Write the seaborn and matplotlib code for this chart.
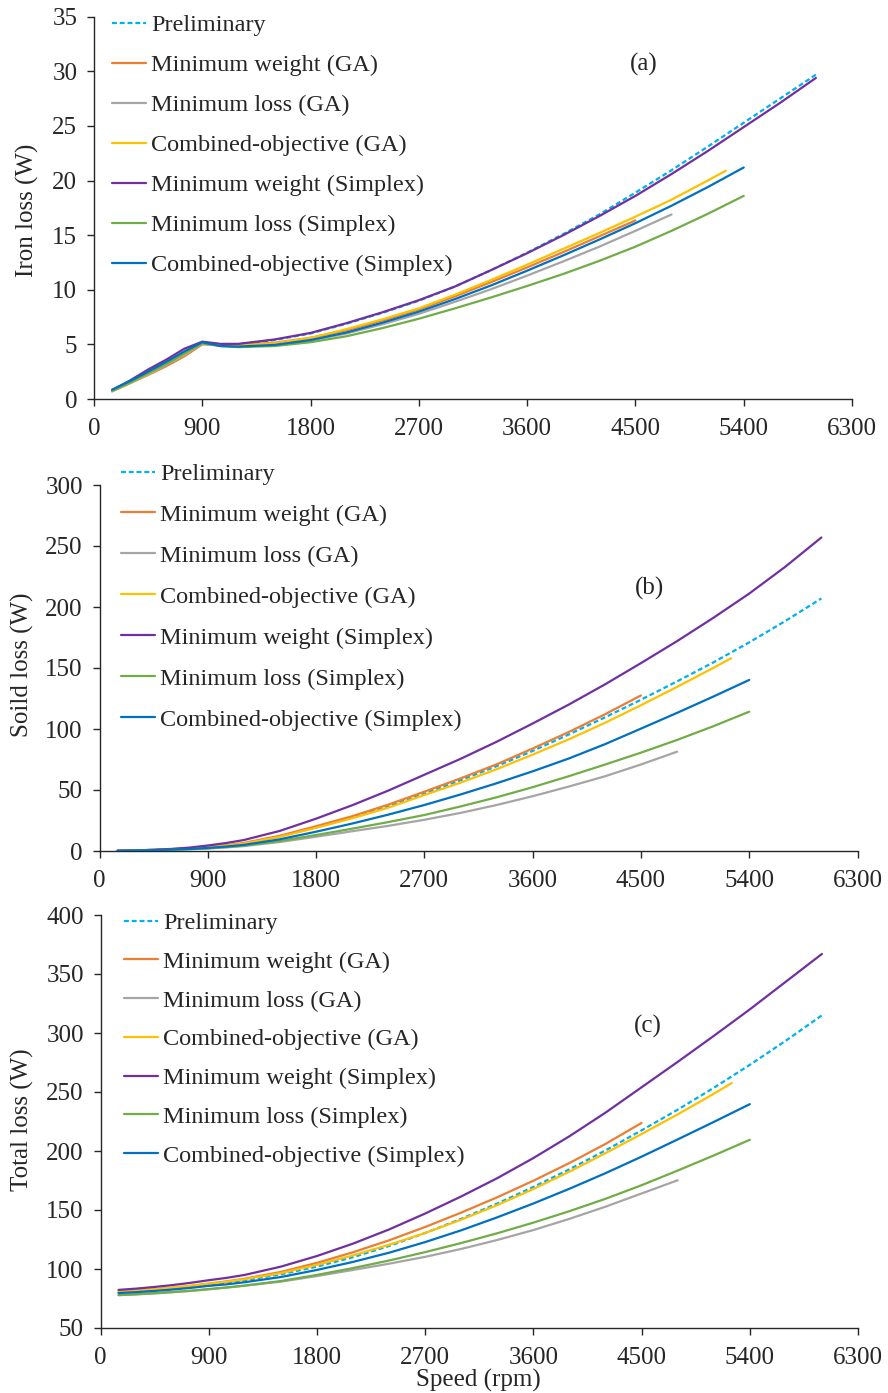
import matplotlib
matplotlib.use("Agg")
import matplotlib.pyplot as plt
import seaborn as sns
import pandas as pd

# ---------------- data ----------------
speed = [150, 300, 450, 600, 750, 900, 1050, 1200, 1500, 1800, 2100, 2400,
         2700, 3000, 3300, 3600, 3900, 4200, 4500, 4800, 5100, 5400, 5700, 6000]
speed_comb_ga = [150, 300, 450, 600, 750, 900, 1050, 1200, 1500, 1800, 2100, 2400,
                 2700, 3000, 3300, 3600, 3900, 4200, 4500, 4800, 5100, 5250]

series_names = ["Preliminary", "Minimum weight (GA)", "Minimum loss (GA)",
                "Combined-objective (GA)", "Minimum weight (Simplex)",
                "Minimum loss (Simplex)", "Combined-objective (Simplex)"]
series_colors = ["#00B0F0", "#ED7D31", "#A5A5A5", "#FFC000", "#7030A0", "#70AD47", "#0070C0"]

# Iron loss (W)
iron_prelim = [0.8, 1.6, 2.5, 3.4, 4.3, 5.2, 5.0, 5.0, 5.4, 6.0, 6.9, 7.9, 9.0, 10.3, 11.8, 13.4,
               15.1, 16.9, 18.9, 20.95, 23.1, 25.3, 27.5, 29.7]
iron_minw_ga = [0.7, 1.45, 2.2, 3.0, 3.9, 5.0, 5.0, 4.95, 5.15, 5.6, 6.3, 7.2, 8.2, 9.4, 10.7,
                12.05, 13.45, 14.9, 16.35]
iron_minl_ga = [0.7, 1.45, 2.25, 3.1, 4.0, 5.05, 4.9, 4.8, 4.95, 5.35, 6.0, 6.85, 7.8, 8.9, 10.05,
                11.3, 12.6, 13.95, 15.4, 16.9]
iron_comb_ga = [0.75, 1.5, 2.3, 3.2, 4.1, 5.1, 4.95, 4.9, 5.1, 5.6, 6.4, 7.3, 8.3, 9.55, 10.9,
                12.3, 13.75, 15.2, 16.7, 18.25, 20.0, 20.9]
iron_minw_sx = [0.8, 1.7, 2.7, 3.6, 4.6, 5.25, 5.05, 5.05, 5.45, 6.05, 6.95, 7.95, 9.05, 10.3, 11.8,
                13.35, 15.0, 16.75, 18.6, 20.6, 22.7, 24.9, 27.1, 29.4]
iron_minl_sx = [0.75, 1.5, 2.35, 3.2, 4.15, 5.1, 4.85, 4.75, 4.85, 5.2, 5.75, 6.5, 7.35, 8.3, 9.3,
                10.35, 11.45, 12.65, 13.95, 15.4, 16.95, 18.6]
iron_comb_sx = [0.85, 1.65, 2.5, 3.4, 4.35, 5.2, 4.85, 4.8, 4.95, 5.4, 6.1, 7.0, 8.0, 9.15, 10.4,
                11.75, 13.15, 14.6, 16.1, 17.7, 19.4, 21.2]

# Solid loss (W)
solid_prelim = [0.2, 0.5, 0.9, 1.4, 2.2, 3.2, 4.5, 6.3, 12.0, 19.5, 27.5, 36.5, 47.0, 58.0, 69.5,
                82.0, 95.5, 109.5, 124.0, 139.0, 154.5, 171.0, 188.5, 207.0]
solid_minw_ga = [0.2, 0.5, 0.9, 1.5, 2.3, 3.3, 4.7, 6.6, 12.5, 20.3, 28.5, 38.0, 48.6, 59.5, 71.0,
                 84.0, 97.5, 112.0, 127.5]
solid_minl_ga = [0.1, 0.3, 0.5, 0.9, 1.4, 2.0, 2.9, 4.0, 7.4, 11.7, 16.2, 20.6, 25.6, 31.2, 37.7,
                 44.9, 52.8, 61.2, 70.9, 81.4]
solid_comb_ga = [0.2, 0.5, 0.9, 1.4, 2.1, 3.1, 4.4, 6.1, 11.6, 19.0, 26.8, 35.5, 45.9, 56.0, 67.0,
                 79.0, 91.5, 105.0, 119.5, 134.5, 150.0, 158.0]
solid_minw_sx = [0.3, 0.5, 1.0, 1.7, 2.8, 4.5, 6.5, 9.0, 16.5, 26.5, 37.5, 49.5, 62.5, 75.5, 89.5,
                 104.5, 120.0, 136.5, 154.0, 172.0, 191.0, 211.0, 233.0, 257.0]
solid_minl_sx = [0.1, 0.3, 0.6, 1.0, 1.5, 2.2, 3.2, 4.4, 8.2, 13.1, 18.3, 23.7, 29.5, 36.5, 44.0,
                 52.3, 61.3, 70.8, 80.6, 91.0, 102.2, 114.2]
solid_comb_sx = [0.2, 0.4, 0.7, 1.1, 1.7, 2.5, 3.6, 5.0, 9.6, 15.8, 22.5, 29.8, 37.7, 46.3, 55.5,
                 65.3, 75.8, 87.5, 100.3, 113.2, 126.5, 140.2]

# Total loss (W)
total_prelim = [80.0, 81.0, 82.2, 83.5, 85.0, 86.8, 88.5, 90.5, 95.5, 102.0, 110.0, 119.5, 130.5,
                142.5, 155.5, 169.5, 184.5, 200.5, 217.5, 235.0, 253.5, 273.0, 293.5, 315.0]
total_minw_ga = [80.6, 81.5, 82.6, 84.0, 85.6, 87.6, 89.5, 91.8, 97.5, 105.2, 114.2, 124.3, 135.6,
                 147.8, 160.8, 174.8, 189.8, 206.0, 223.8]
total_minl_ga = [77.8, 78.5, 79.3, 80.3, 81.4, 82.8, 84.2, 85.8, 89.3, 94.0, 99.2, 104.5, 110.3,
                 117.0, 124.6, 133.0, 142.5, 152.8, 164.0, 175.2]
total_comb_ga = [81.0, 81.9, 83.0, 84.3, 85.8, 87.6, 89.3, 91.4, 96.5, 103.5, 111.5, 120.5, 130.5,
                 141.8, 154.2, 167.8, 182.5, 198.2, 214.4, 231.0, 248.5, 257.6]
total_minw_sx = [82.3, 83.4, 84.8, 86.4, 88.3, 90.5, 92.5, 95.0, 102.0, 111.0, 121.5, 133.5, 147.0,
                 161.5, 177.0, 194.0, 212.5, 232.5, 254.0, 275.5, 297.5, 320.0, 343.5, 367.0]
total_minl_sx = [77.9, 78.6, 79.5, 80.5, 81.6, 83.0, 84.4, 86.0, 89.8, 95.0, 100.8, 107.2, 114.3,
                 122.0, 130.3, 139.3, 149.0, 159.5, 171.0, 183.4, 196.2, 209.5]
total_comb_sx = [79.6, 80.4, 81.4, 82.6, 84.0, 85.7, 87.0, 88.8, 93.2, 99.2, 106.0, 113.8, 122.8,
                 132.8, 143.8, 155.5, 168.0, 181.2, 195.2, 209.8, 224.6, 239.7]

x_ticks = [0, 900, 1800, 2700, 3600, 4500, 5400, 6300]
iron_ticks = [0, 5, 10, 15, 20, 25, 30, 35]
solid_ticks = [0, 50, 100, 150, 200, 250, 300]
total_ticks = [50, 100, 150, 200, 250, 300, 350, 400]

# ---------------- style ----------------
sns.set_theme(style="ticks")
plt.rcParams["font.family"] = ["Liberation Serif", "DejaVu Serif"]

W, H = 888, 1393
fig = plt.figure(figsize=(W / 100, H / 100), dpi=100)


def px_axes(left, right, bottom, top):
    return fig.add_axes([left / W, 1 - bottom / H, (right - left) / W, (bottom - top) / H])


ax_a = px_axes(94, 852, 399, 16.8)
ax_b = px_axes(99.5, 857.5, 851, 485)
ax_c = px_axes(100.5, 858, 1328, 915)

panels = [
    (ax_a, [iron_prelim, iron_minw_ga, iron_minl_ga, iron_comb_ga, iron_minw_sx, iron_minl_sx, iron_comb_sx],
     iron_ticks, (112, 14), 0.74, "(a)", (644, 64), "Iron loss (W)", (27, 210)),
    (ax_b, [solid_prelim, solid_minw_ga, solid_minl_ga, solid_comb_ga, solid_minw_sx, solid_minl_sx, solid_comb_sx],
     solid_ticks, (121, 463), 0.78, "(b)", (650, 588), "Soild loss (W)", (22, 665)),
    (ax_c, [total_prelim, total_minw_ga, total_minl_ga, total_comb_ga, total_minw_sx, total_minl_sx, total_comb_sx],
     total_ticks, (124, 912), 0.69, "(c)", (648, 1026), "Total loss (W)", (22, 1120)),
]

for ax, data, yt, leg_pos, leg_sp, tag, tag_pos, ylab, ylab_pos in panels:
    handles = []
    for i, (name, col, vals) in enumerate(zip(series_names, series_colors, data)):
        spd = speed_comb_ga if i == 3 else speed[:len(vals)]
        df = pd.DataFrame({"speed": spd, "loss": vals})
        ls = (0, (2.2, 1.3)) if i == 0 else "-"
        sns.lineplot(data=df, x="speed", y="loss", ax=ax, color=col, linewidth=1.6,
                     linestyle=ls, legend=False, zorder=2 + i)
        handles.append(ax.get_lines()[-1])
    ax.set_xlim(0, 6300)
    ax.set_ylim(yt[0], yt[-1])
    ax.set_xticks(x_ticks)
    ax.set_yticks(yt)
    ax.set_xlabel("")
    ax.set_ylabel("")
    for s in ["top", "right"]:
        ax.spines[s].set_visible(False)
    for s in ["left", "bottom"]:
        ax.spines[s].set_color("#262626")
        ax.spines[s].set_linewidth(1.0)
    ax.tick_params(axis="both", direction="out", length=5, width=1, color="#262626",
                   labelsize=18, bottom=True, left=True)
    ax.tick_params(axis="x", pad=9)
    ax.tick_params(axis="y", pad=7)
    ax.legend(handles, series_names, loc="upper left",
              bbox_to_anchor=(leg_pos[0] / W, 1 - leg_pos[1] / H), bbox_transform=fig.transFigure,
              frameon=False, fontsize=17.5, handlelength=1.4, handletextpad=0.2,
              labelspacing=leg_sp, borderpad=0, borderaxespad=0)
    fig.text(tag_pos[0] / W, 1 - tag_pos[1] / H, tag, ha="center", va="center", fontsize=18)
    fig.text(ylab_pos[0] / W, 1 - ylab_pos[1] / H, ylab, rotation=90, ha="center", va="center",
             fontsize=18)

fig.text(478 / W, 1 - 1380 / H, "Speed (rpm)", ha="center", va="center", fontsize=18)

fig.savefig("out.png", dpi=100)
